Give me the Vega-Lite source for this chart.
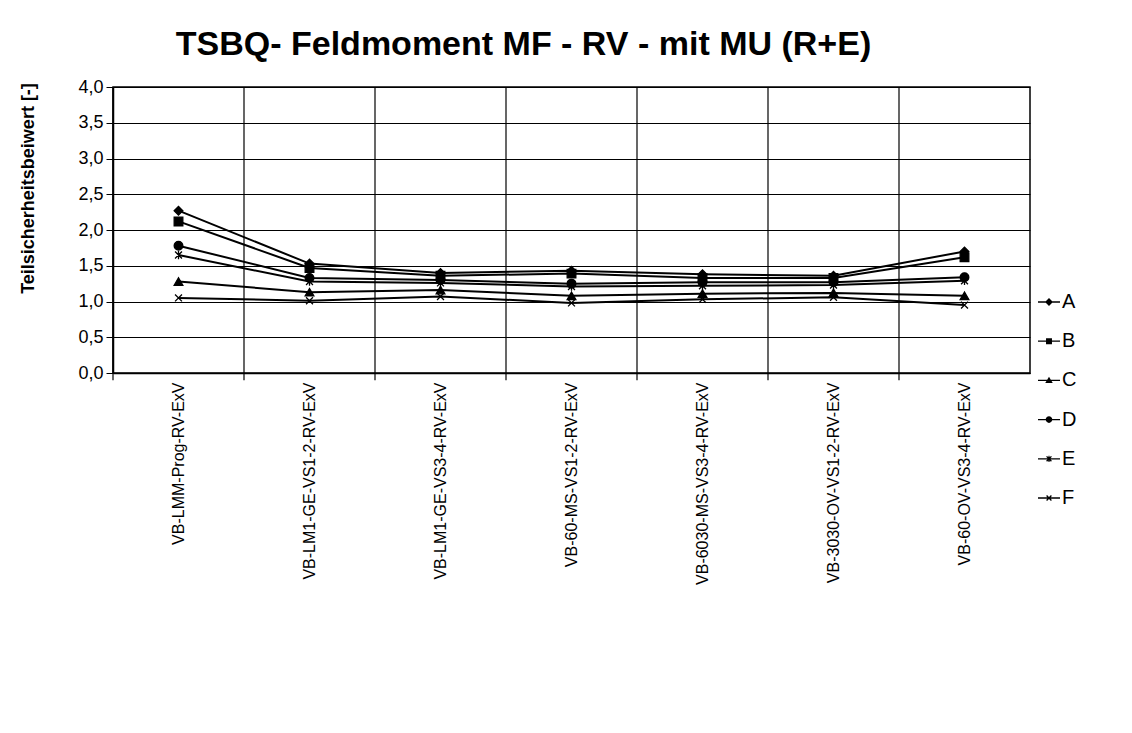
{
  "$schema": "https://vega.github.io/schema/vega-lite/v6.json",
  "autosize": "none",
  "width": 917,
  "height": 286,
  "padding": {"left": 113, "top": 87, "right": 102, "bottom": 360},
  "background": "white",
  "config": {
    "font": "Liberation Sans",
    "view": {"stroke": "black", "strokeWidth": 1.5},
    "axis": {"labelColor": "black", "titleColor": "black", "domainColor": "black", "tickColor": "black", "gridColor": "black", "gridOpacity": 1, "gridWidth": 1.2}
  },
  "title": {
    "text": "TSBQ- Feldmoment MF - RV - mit MU (R+E)",
    "font": "Liberation Sans",
    "fontSize": 34,
    "fontWeight": "bold",
    "color": "black",
    "anchor": "middle",
    "frame": "group",
    "dx": -48,
    "offset": 16
  },
  "data": {
    "values": [
      {"k": "VB-LMM-Prog-RV-ExV", "s": "A", "v": 2.27},
      {"k": "VB-LMM-Prog-RV-ExV", "s": "B", "v": 2.12},
      {"k": "VB-LMM-Prog-RV-ExV", "s": "C", "v": 1.28},
      {"k": "VB-LMM-Prog-RV-ExV", "s": "D", "v": 1.78},
      {"k": "VB-LMM-Prog-RV-ExV", "s": "E", "v": 1.65},
      {"k": "VB-LMM-Prog-RV-ExV", "s": "F", "v": 1.05},
      {"k": "VB-LM1-GE-VS1-2-RV-ExV", "s": "A", "v": 1.53},
      {"k": "VB-LM1-GE-VS1-2-RV-ExV", "s": "B", "v": 1.47},
      {"k": "VB-LM1-GE-VS1-2-RV-ExV", "s": "C", "v": 1.13},
      {"k": "VB-LM1-GE-VS1-2-RV-ExV", "s": "D", "v": 1.33},
      {"k": "VB-LM1-GE-VS1-2-RV-ExV", "s": "E", "v": 1.28},
      {"k": "VB-LM1-GE-VS1-2-RV-ExV", "s": "F", "v": 1.01},
      {"k": "VB-LM1-GE-VS3-4-RV-ExV", "s": "A", "v": 1.40},
      {"k": "VB-LM1-GE-VS3-4-RV-ExV", "s": "B", "v": 1.36},
      {"k": "VB-LM1-GE-VS3-4-RV-ExV", "s": "C", "v": 1.16},
      {"k": "VB-LM1-GE-VS3-4-RV-ExV", "s": "D", "v": 1.30},
      {"k": "VB-LM1-GE-VS3-4-RV-ExV", "s": "E", "v": 1.26},
      {"k": "VB-LM1-GE-VS3-4-RV-ExV", "s": "F", "v": 1.07},
      {"k": "VB-60-MS-VS1-2-RV-ExV", "s": "A", "v": 1.43},
      {"k": "VB-60-MS-VS1-2-RV-ExV", "s": "B", "v": 1.39},
      {"k": "VB-60-MS-VS1-2-RV-ExV", "s": "C", "v": 1.08},
      {"k": "VB-60-MS-VS1-2-RV-ExV", "s": "D", "v": 1.25},
      {"k": "VB-60-MS-VS1-2-RV-ExV", "s": "E", "v": 1.21},
      {"k": "VB-60-MS-VS1-2-RV-ExV", "s": "F", "v": 0.98},
      {"k": "VB-6030-MS-VS3-4-RV-ExV", "s": "A", "v": 1.38},
      {"k": "VB-6030-MS-VS3-4-RV-ExV", "s": "B", "v": 1.33},
      {"k": "VB-6030-MS-VS3-4-RV-ExV", "s": "C", "v": 1.11},
      {"k": "VB-6030-MS-VS3-4-RV-ExV", "s": "D", "v": 1.27},
      {"k": "VB-6030-MS-VS3-4-RV-ExV", "s": "E", "v": 1.22},
      {"k": "VB-6030-MS-VS3-4-RV-ExV", "s": "F", "v": 1.03},
      {"k": "VB-3030-OV-VS1-2-RV-ExV", "s": "A", "v": 1.36},
      {"k": "VB-3030-OV-VS1-2-RV-ExV", "s": "B", "v": 1.33},
      {"k": "VB-3030-OV-VS1-2-RV-ExV", "s": "C", "v": 1.12},
      {"k": "VB-3030-OV-VS1-2-RV-ExV", "s": "D", "v": 1.27},
      {"k": "VB-3030-OV-VS1-2-RV-ExV", "s": "E", "v": 1.23},
      {"k": "VB-3030-OV-VS1-2-RV-ExV", "s": "F", "v": 1.06},
      {"k": "VB-60-OV-VS3-4-RV-ExV", "s": "A", "v": 1.70},
      {"k": "VB-60-OV-VS3-4-RV-ExV", "s": "B", "v": 1.62},
      {"k": "VB-60-OV-VS3-4-RV-ExV", "s": "C", "v": 1.08},
      {"k": "VB-60-OV-VS3-4-RV-ExV", "s": "D", "v": 1.34},
      {"k": "VB-60-OV-VS3-4-RV-ExV", "s": "E", "v": 1.29},
      {"k": "VB-60-OV-VS3-4-RV-ExV", "s": "F", "v": 0.95}
    ]
  },
  "encoding": {
    "x": {
      "field": "k",
      "type": "nominal",
      "sort": null,
      "scale": {"type": "band", "paddingInner": 0, "paddingOuter": 0},
      "axis": {"title": null, "labelAngle": -90, "labelFontSize": 16, "labelPadding": 9, "ticks": false, "grid": false, "domainWidth": 1.5, "labelLimit": 400}
    },
    "y": {
      "field": "v",
      "type": "quantitative",
      "scale": {"domain": [0, 4], "nice": false},
      "axis": {
        "title": "Teilsicherheitsbeiwert [-]",
        "titleFontSize": 18,
        "titleFontWeight": "bold",
        "titleX": -85,
        "titleY": 101,
        "titleAlign": "center",
        "titleBaseline": "middle",
        "titleAngle": -90,
        "values": [0, 0.5, 1, 1.5, 2, 2.5, 3, 3.5, 4],
        "labelOverlap": false,
        "labelExpr": "replace(format(datum.value, '.1f'), '.', ',')",
        "labelFontSize": 18,
        "tickSize": 7,
        "labelPadding": 3,
        "domainWidth": 1.5,
        "grid": true
      }
    }
  },
  "layer": [
    {
      "transform": [{"filter": "datum.s == 'A'"}],
      "mark": {"type": "rule", "color": "black", "strokeWidth": 1.2},
      "encoding": {
        "x": {"field": "k", "type": "nominal", "sort": null, "bandPosition": 0},
        "y": {"datum": 4},
        "y2": {"datum": -0.1}
      }
    },
    {
      "mark": {"type": "line", "color": "black", "strokeWidth": 2},
      "encoding": {
        "detail": {"field": "s"}
      }
    },
    {
      "mark": {"type": "point", "filled": true, "color": "black", "stroke": "black", "strokeWidth": 1.3, "size": 75, "opacity": 1},
      "encoding": {
        "shape": {
          "field": "s",
          "type": "nominal",
          "scale": {"domain": ["A", "B", "C", "D", "E", "F"], "range": ["diamond", "square", "triangle-up", "circle", "M-0.8,-0.8L0.8,0.8M0.8,-0.8L-0.8,0.8M0,-1L0,1", "M-0.8,-0.8L0.8,0.8M0.8,-0.8L-0.8,0.8"]},
          "legend": null
        }
      }
    },
    {
      "mark": {"type": "point", "filled": true, "color": "black", "opacity": 0},
      "encoding": {
        "shape": {
          "field": "s",
          "type": "nominal",
          "scale": {"range": [
            "M-1,-0.06L1,-0.06L1,0.06L-1,0.06ZM0,-0.36L0.36,0L0,0.36L-0.36,0Z",
            "M-1,-0.06L1,-0.06L1,0.06L-1,0.06ZM-0.27,-0.27L0.27,-0.27L0.27,0.27L-0.27,0.27Z",
            "M-1,-0.06L1,-0.06L1,0.06L-1,0.06ZM0,-0.34L0.34,0.24L-0.34,0.24Z",
            "M-1,-0.06L1,-0.06L1,0.06L-1,0.06ZM-0.3,0A0.3,0.3 0 1,1 0.3,0A0.3,0.3 0 1,1 -0.3,0Z",
            "M-1,-0.06L1,-0.06L1,0.06L-1,0.06ZM-0.178,-0.262L0.262,0.178L0.178,0.262L-0.262,-0.178ZM0.178,-0.262L0.262,-0.178L-0.178,0.262L-0.262,0.178ZM-0.05,-0.28L0.05,-0.28L0.05,0.28L-0.05,0.28Z",
            "M-1,-0.06L1,-0.06L1,0.06L-1,0.06ZM-0.178,-0.262L0.262,0.178L0.178,0.262L-0.262,-0.178ZM0.178,-0.262L0.262,-0.178L-0.178,0.262L-0.262,0.178Z"
          ]},
          "legend": {
            "title": null,
            "orient": "none",
            "legendX": 925,
            "legendY": 204,
            "symbolSize": 484,
            "symbolFillColor": "black",
            "symbolStrokeWidth": 0,
            "symbolOpacity": 1,
            "labelFontSize": 20,
            "labelColor": "black",
            "labelOffset": 2,
            "rowPadding": 18.2
          }
        }
      }
    }
  ],
  "resolve": {"scale": {"shape": "independent"}, "legend": {"shape": "independent"}}
}
